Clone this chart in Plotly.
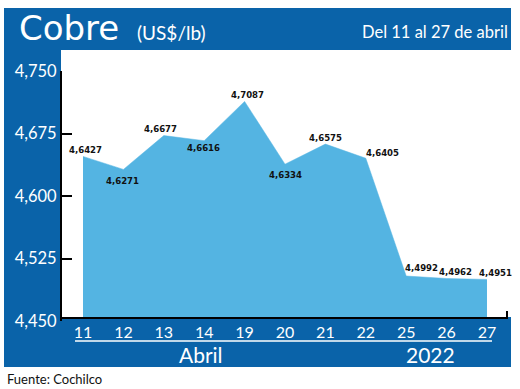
import plotly.graph_objects as go

W, H = 520, 389

days = ["11", "12", "13", "14", "19", "20", "21", "22", "25", "26", "27"]
prices = [4.6427, 4.6271, 4.6677, 4.6616, 4.7087, 4.6334, 4.6575, 4.6405, 4.4992, 4.4962, 4.4951]
y_tickvals = [4.450, 4.525, 4.600, 4.675, 4.750]
y_ticktext = ["4,450", "4,525", "4,600", "4,675", "4,750"]
month_label = "Abril"
year_label = "2022"
title = "Cobre"
unit = "(US$/lb)"
period = "Del 11 al 27 de abril"
source = "Fuente: Cochilco"

# label offsets (pixels) relative to each point: (dx, dy), dy positive = up
label_offsets = [(2, 7), (-1, -11), (-3, 7), (-1, -7), (3, 7), (0, -10),
                 (0, 7), (17, 6), (15, 9), (9, 7), (9, 7)]

BLUE = "#0a63a9"
FILL = "#54b4e2"
SANS = "Lato, Open Sans, sans-serif"


def px(x):
    return x / W


def py(y):
    return 1 - y / H


labels = [f"{v:.4f}".replace(".", ",") for v in prices]

fig = go.Figure()
fig.add_trace(go.Scatter(
    x=days, y=prices, mode="lines", fill="tozeroy",
    fillcolor=FILL, line=dict(color=FILL, width=0.5),
    hoverinfo="skip", xaxis="x", yaxis="y",
))
# invisible trace carrying the tick axis
fig.add_trace(go.Scatter(
    x=days, y=prices, mode="lines", line=dict(width=0), opacity=0,
    hoverinfo="skip", xaxis="x2", yaxis="y2", showlegend=False,
))

# scale: 833.3 px per unit; data axis has 4.45 at y=317, top at y=50
top_val = 4.45 + (317 - 50) / 833.3

annotations = [
    dict(text=title, xref="paper", yref="paper", x=px(17), y=py(28), xanchor="left",
         yanchor="middle", showarrow=False,
         font=dict(family="DejaVu Sans, sans-serif", size=34, color="white")),
    dict(text=unit, xref="paper", yref="paper", x=px(135), y=py(32), xanchor="left",
         yanchor="middle", showarrow=False,
         font=dict(family=SANS, size=19, color="white")),
    dict(text=period, xref="paper", yref="paper", x=px(510), y=py(32), xanchor="right",
         yanchor="middle", showarrow=False,
         font=dict(family=SANS, size=16.5, color="white")),
    dict(text=month_label, xref="paper", yref="paper", x=px(201), y=py(354), xanchor="center",
         yanchor="middle", showarrow=False,
         font=dict(family=SANS, size=21, color="white")),
    dict(text=year_label, xref="paper", yref="paper", x=px(430), y=py(354), xanchor="center",
         yanchor="middle", showarrow=False,
         font=dict(family=SANS, size=21, color="white")),
    dict(text=source, xref="paper", yref="paper", x=px(5), y=py(379), xanchor="left",
         yanchor="middle", showarrow=False,
         font=dict(family=SANS, size=13, color="#111111")),
]
# category axis: annotate by category index
for i, (v, t, (dx, dy)) in enumerate(zip(prices, labels, label_offsets)):
    annotations.append(dict(
        text=t, x=i, y=v, xref="x", yref="y", showarrow=False,
        xanchor="center", yanchor="middle", xshift=dx, yshift=dy,
        font=dict(family="DejaVu Sans Condensed, sans-serif", size=9.5, color="#111111",
                  weight="bold"),
    ))

fig.update_layout(
    template="none",
    width=W, height=H, margin=dict(l=0, r=0, t=0, b=0, pad=0),
    paper_bgcolor="white", plot_bgcolor="rgba(0,0,0,0)",
    showlegend=False,
    xaxis=dict(type="category", domain=[px(62), px(508)], range=[-0.52, 10.52],
               showgrid=False, zeroline=False, showline=True, linecolor="black", linewidth=2,
               ticks="", automargin=False,
               tickfont=dict(family=SANS, size=16, color="white"),
               anchor="y", fixedrange=True),
    yaxis=dict(domain=[py(317), py(50)], range=[4.45, top_val], showgrid=False, automargin=False,
               zeroline=False, showticklabels=False, showline=False, anchor="x", fixedrange=True),
    xaxis2=dict(type="category", domain=[px(62), px(508)], range=[-0.52, 10.52],
                visible=False, anchor="y2", automargin=False),
    yaxis2=dict(domain=[py(321), py(71)], range=[4.45, 4.75], anchor="x2", automargin=False,
                tickvals=y_tickvals, ticktext=y_ticktext,
                showgrid=False, zeroline=False, showline=True, linecolor="black", linewidth=2,
                ticks="inside", ticklen=10, tickwidth=2, tickcolor="black",
                tickfont=dict(family=SANS, size=16.5, color="white")),
    shapes=[
        dict(type="rect", xref="paper", yref="paper", x0=px(4), x1=px(511), y0=py(367), y1=py(8),
             fillcolor=BLUE, line=dict(width=0), layer="below"),
        dict(type="rect", xref="paper", yref="paper", x0=px(61), x1=px(511), y0=py(317), y1=py(50),
             fillcolor="white", line=dict(width=0), layer="below"),
        dict(type="line", xref="paper", yref="paper", x0=px(75), x1=px(492), y0=py(341), y1=py(341),
             line=dict(color="white", width=1.5)),
        dict(type="line", xref="paper", yref="paper", x0=px(507), x1=px(507), y0=py(317), y1=py(311),
             line=dict(color="black", width=2)),
    ],
    annotations=annotations,
)

fig.write_html("out.html", config={"displayModeBar": False},
               post_script="document.body.style.margin='0';document.body.style.overflow='hidden';")
